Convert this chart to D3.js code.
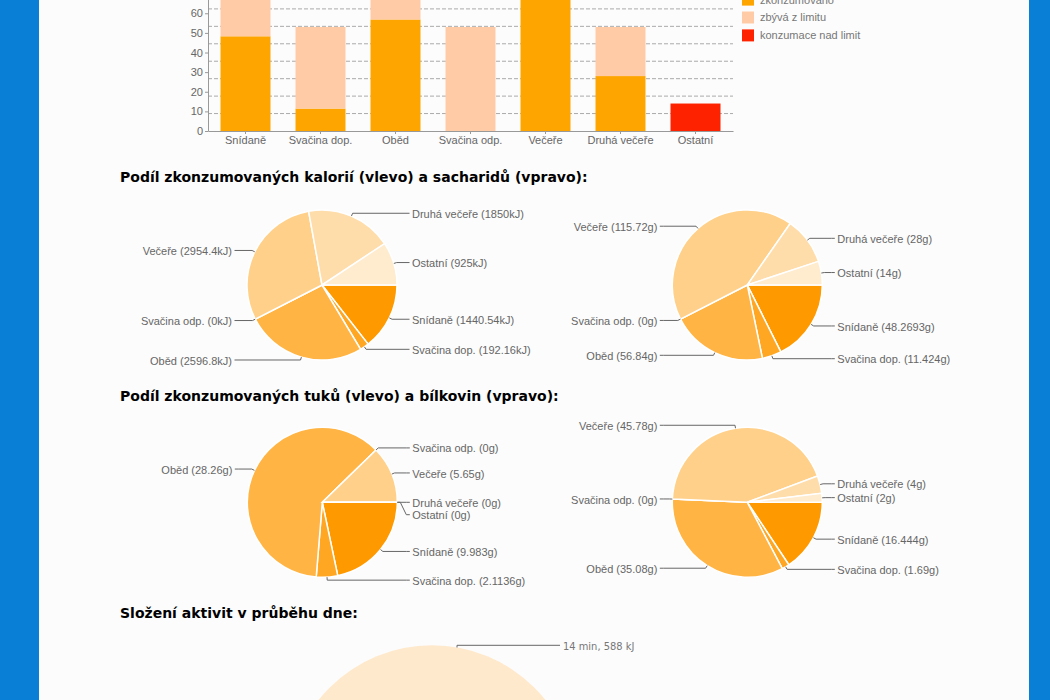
<!DOCTYPE html>
<html><head><meta charset="utf-8">
<script src="https://cdn.jsdelivr.net/npm/d3@7"></script>
<style>
html,body{margin:0;padding:0;background:#0a7fd6;overflow:hidden}
svg{display:block}
</style></head><body>
<svg id="c" width="1050" height="700"></svg>
<script>
// ---------- data ----------
const categories = ["Snídaně","Svačina dop.","Oběd","Svačina odp.","Večeře","Druhá večeře","Ostatní"];
const consumed  = [48.2693, 11.424, 56.84, 0, 115.72, 28, 0];
const remaining = [31.2, 41.6, 49.2, 53, 0, 25, 0];
const overLimit = [0, 0, 0, 0, 0, 0, 14];
const yTicks = [0, 10, 20, 30, 40, 50, 60];
const legendLabels = ["zkonzumováno", "zbývá z limitu", "konzumace nad limit"];

const kilojoules = [1440.54, 192.16, 2596.8, 0, 2954.4, 1850, 925];
const carbs      = [48.2693, 11.424, 56.84, 0, 115.72, 28, 14];
const fats       = [9.983, 2.1136, 28.26, 0, 5.65, 0, 0];
const proteins   = [16.444, 1.69, 35.08, 0, 45.78, 4, 2];

const activityValues = [588];
const activityLabels = ["14 min, 588 kJ"];

const headings = [
  "Podíl zkonzumovaných kalorií (vlevo) a sacharidů (vpravo):",
  "Podíl zkonzumovaných tuků (vlevo) a bílkovin (vpravo):",
  "Složení aktivit v průběhu dne:"
];

// ---------- setup ----------
const svg = d3.select("#c");
svg.append("rect").attr("x",39).attr("y",0).attr("width",990).attr("height",700).attr("fill","#fcfcfc");

const labelFont = "'Liberation Sans', Arial, Helvetica, sans-serif";

// ---------- bar chart ----------
const x = d3.scaleBand().domain(categories).range([208, 733]).paddingInner(1/3).paddingOuter(1/6);
const yMax = 88.9;
const y = d3.scaleLinear().domain([0, yMax]).range([131, 131 - 1.962*yMax]);

const bar = svg.append("g");
// grid
bar.append("g").selectAll("line").data(d3.range(1, 10).map(i => yMax*i/10)).join("line")
  .attr("x1", 208).attr("x2", 733).attr("y1", d => y(d)).attr("y2", d => y(d))
  .attr("stroke", "#aaa").attr("stroke-dasharray", "4,2").attr("stroke-width", 1);

const rows = categories.map((c, i) => ({cat: c, consumed: consumed[i], remaining: remaining[i], over: overLimit[i]}));
const keys = ["consumed", "remaining", "over"];
const barColors = {consumed: "#ffa500", remaining: "#ffcba6", over: "#ff2200"};
const stack = d3.stack().keys(keys)(rows);
bar.append("g").selectAll("g").data(stack).join("g").attr("fill", s => barColors[s.key])
  .selectAll("rect").data(s => s).join("rect")
  .attr("x", d => x(d.data.cat)).attr("width", x.bandwidth())
  .attr("y", d => y(d[1])).attr("height", d => y(d[0]) - y(d[1]));

const ax = bar.append("g").attr("transform", "translate(0,131)")
  .call(d3.axisBottom(x).tickSize(3).tickSizeOuter(0).tickPadding(2));
const ay = bar.append("g").attr("transform", "translate(208,0)")
  .call(d3.axisLeft(y).tickValues(yTicks).tickSize(3).tickSizeOuter(0).tickPadding(2));
[ax, ay].forEach(g => {
  g.attr("font-family", labelFont).attr("font-size", 11);
  g.selectAll("path,line").attr("stroke", "#999");
  g.selectAll("text").attr("fill", "#666");
});

// legend
const leg = svg.append("g");
legendLabels.forEach((t, i) => {
  const ly = -0.4 + i*17.9;
  leg.append("rect").attr("x", 742).attr("y", ly - 6).attr("width", 12).attr("height", 12)
    .attr("fill", [barColors.consumed, barColors.remaining, barColors.over][i]);
  leg.append("text").attr("x", 760).attr("y", ly).attr("dy", "0.36em")
    .attr("font-family", labelFont).attr("font-size", 11).attr("fill", "#777").text(t);
});

// ---------- headings ----------
const headY = [182, 400.6, 618.2];
headings.forEach((h, i) => {
  svg.append("text").attr("x", 120).attr("y", headY[i])
    .attr("font-family", "'DejaVu Sans', Verdana, sans-serif").attr("font-weight", "bold")
    .attr("font-size", 14).attr("fill", "#000").text(h);
});

// ---------- pies ----------
const sliceColor = i => d3.interpolateRgb("#ff9900", "#ffebcd")(i/6);
const pieGen = d3.pie().sort(null).startAngle(Math.PI/2).endAngle(Math.PI/2 + 2*Math.PI);

const pies = [
  {values: kilojoules, unit: "kJ", cx: 322, cy: 285},
  {values: carbs, unit: "g", cx: 747.3, cy: 285},
  {values: fats, unit: "g", cx: 322.3, cy: 502.3},
  {values: proteins, unit: "g", cx: 747.3, cy: 502.3}
];
const R = 75, RL = 78;

pies.forEach(p => {
  const g = svg.append("g").attr("transform", `translate(${p.cx},${p.cy})`);
  const arcs = pieGen(p.values);
  const arc = d3.arc().innerRadius(0).outerRadius(R);
  g.selectAll("path.s").data(arcs).join("path").attr("class", "s")
    .attr("d", arc).attr("fill", (d, i) => sliceColor(i))
    .attr("stroke", "#fff").attr("stroke-width", 1.5);

  const labels = arcs.map((a, i) => {
    const m = (a.startAngle + a.endAngle)/2;
    const s = Math.sin(m), c = Math.cos(m);
    return {i, side: s >= -1e-9 ? 1 : -1,
      p0: [R*s, -R*c], p1: [RL*s, -RL*c], y: -RL*c,
      text: `${categories[i]} (${p.values[i]}${p.unit})`};
  });
  [1, -1].forEach(side => {
    const L = labels.filter(l => l.side === side).sort((a, b) => a.y - b.y || a.i - b.i);
    for (let k = 1; k < L.length; k++) if (L[k].y < L[k-1].y + 12.4) L[k].y = L[k-1].y + 12.4;
  });
  labels.forEach(l => {
    const pts = [l.p0, l.p1, [l.side*84, l.y], [l.side*87.5, l.y]];
    g.append("path").attr("d", d3.line()(pts)).attr("fill", "none").attr("stroke", "#666").attr("stroke-width", 1);
    g.append("text").attr("x", l.side*90).attr("y", l.y + 0.6).attr("dy", "0.36em")
      .attr("text-anchor", l.side > 0 ? "start" : "end")
      .attr("font-family", labelFont).attr("font-size", 11).attr("fill", "#666").text(l.text);
  });
});

// ---------- activity pie ----------
{
  const cx = 432, cy = 790.3, r = 145;
  const g = svg.append("g").attr("transform", `translate(${cx},${cy})`);
  const arcs = d3.pie().sort(null)(activityValues);
  g.selectAll("path").data(arcs).join("path").attr("d", d3.arc().innerRadius(0).outerRadius(r))
    .attr("fill", "#ffe9cc");
  const ang = Math.asin(25/r);
  const p0 = [r*Math.sin(ang), -r*Math.cos(ang)];
  g.append("path").attr("d", d3.line()([p0, [p0[0], -r], [128, -r]]))
    .attr("fill", "none").attr("stroke", "#666").attr("stroke-width", 1);
  g.append("text").attr("x", 131).attr("y", -r + 0.8).attr("dy", "0.36em")
    .attr("font-family", "'Liberation Sans Narrow', 'Arial Narrow', 'DejaVu Sans Condensed', sans-serif")
    .attr("font-size", 11).attr("fill", "#777").text(activityLabels[0]);
}
</script>
</body></html>
